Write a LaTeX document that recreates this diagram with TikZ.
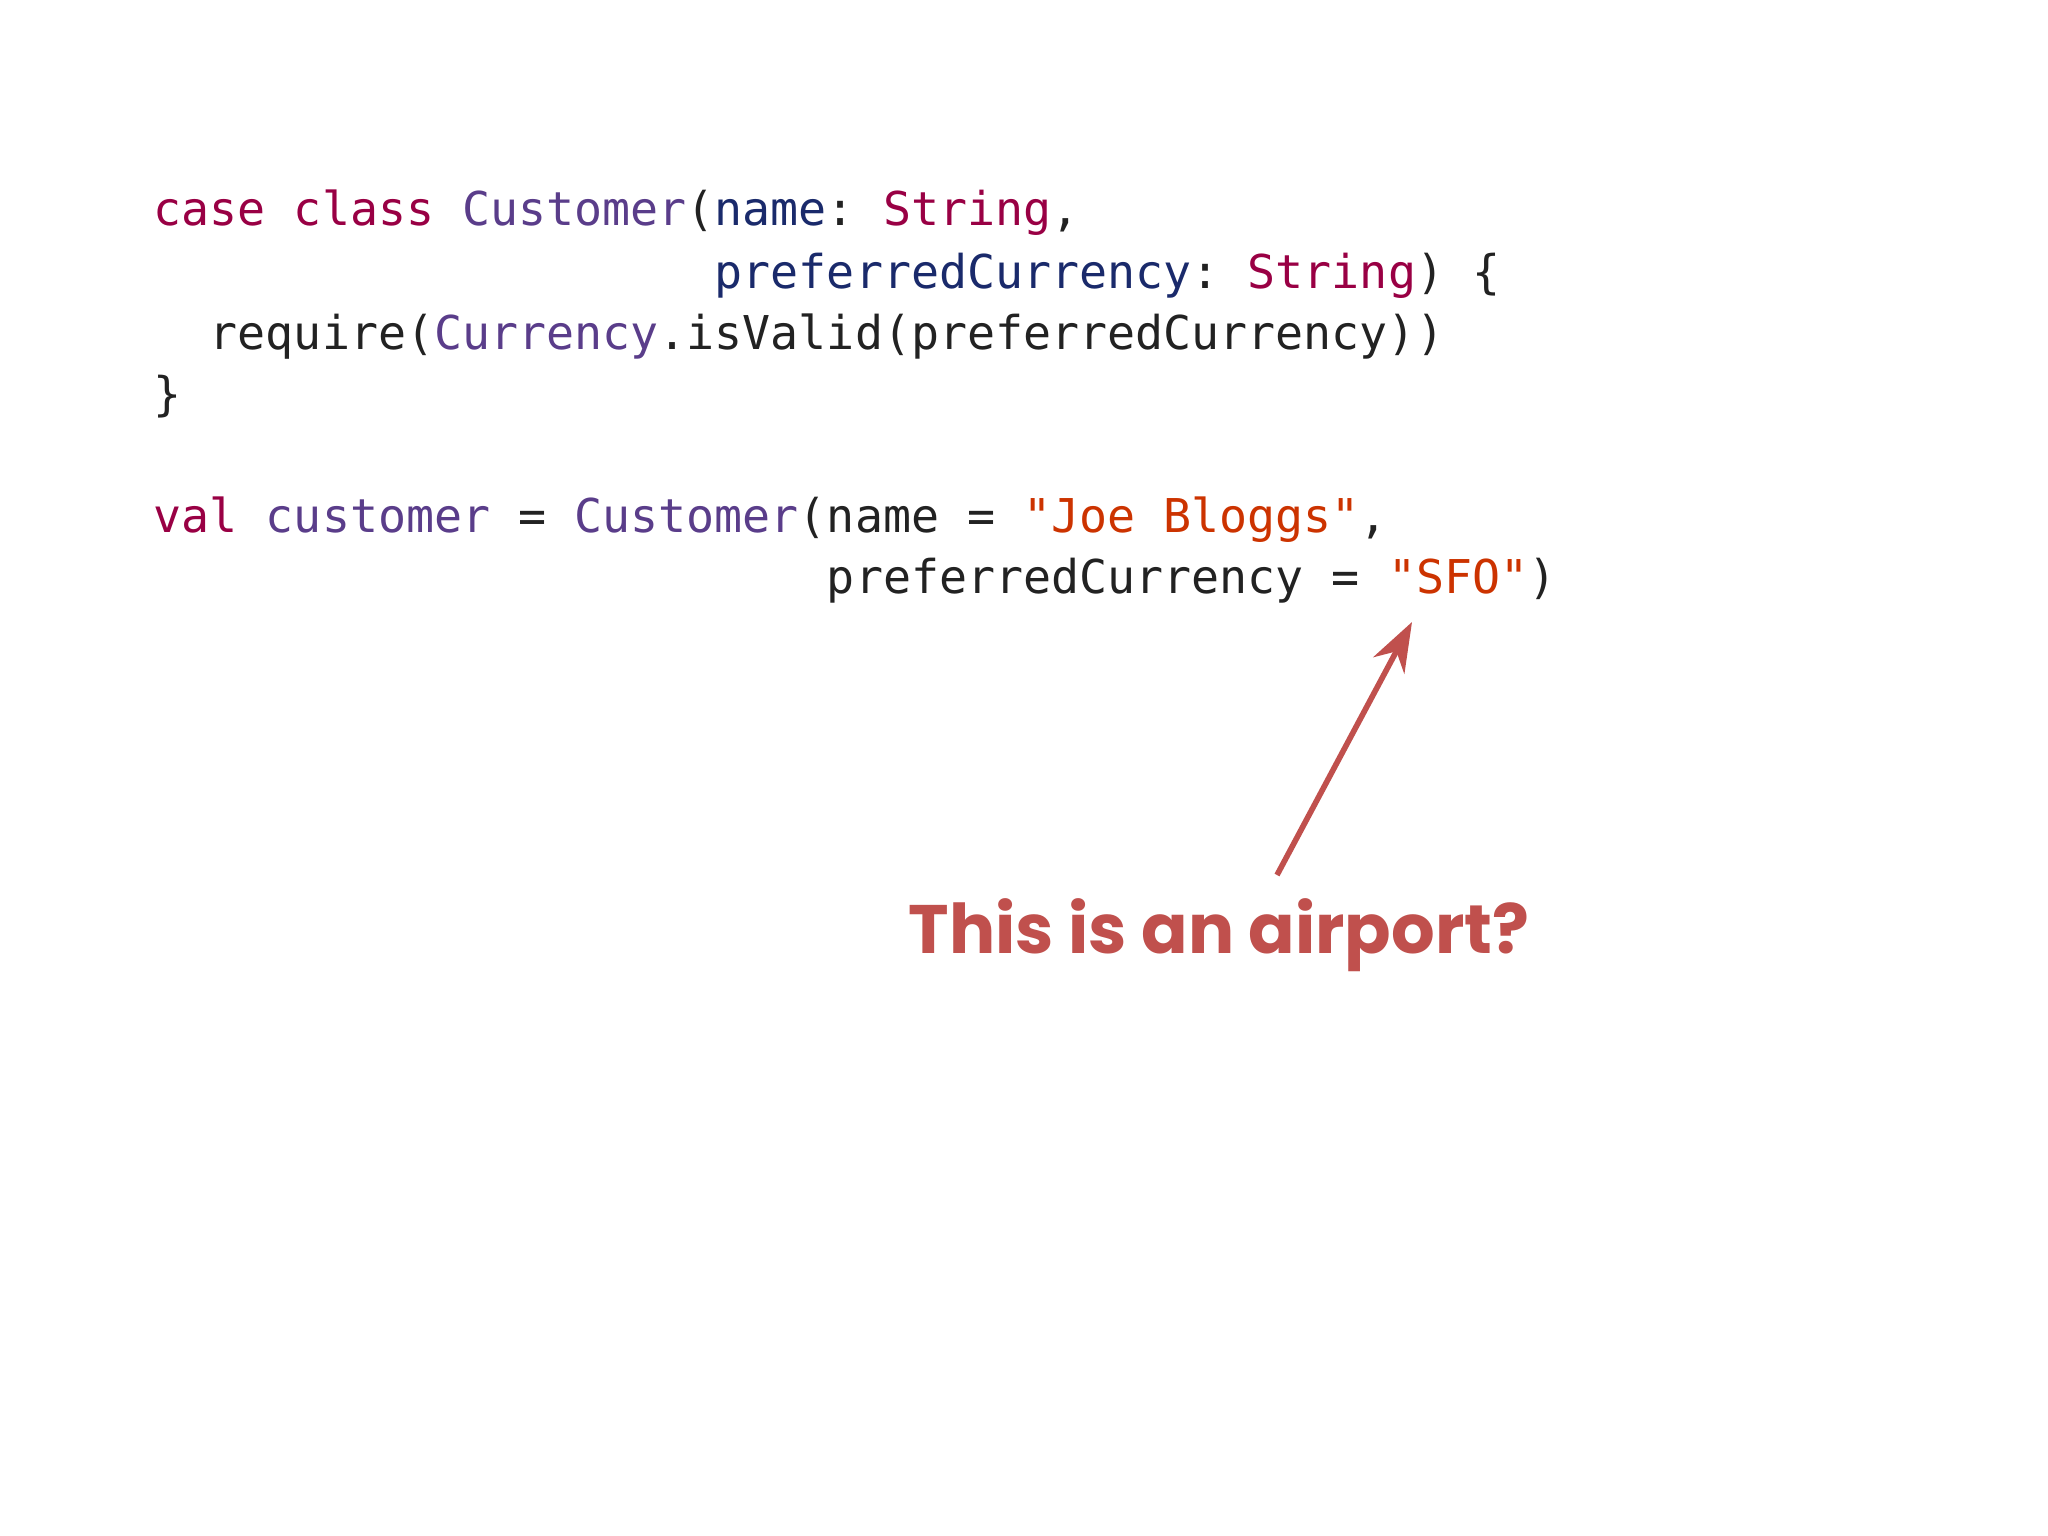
\documentclass[tikz,border=0pt]{standalone}
\usepackage{fontspec}
\setmonofont{DejaVu Sans Mono}
\setsansfont{Poppins}
\usetikzlibrary{arrows.meta}
\definecolor{kw}{HTML}{990044}
\definecolor{ty}{HTML}{5A3D8A}
\definecolor{nm}{HTML}{1A2A6B}
\definecolor{st}{HTML}{CC3300}
\definecolor{tx}{HTML}{222222}
\definecolor{note}{HTML}{C0504D}
\tikzset{code/.style={anchor=base west,inner sep=0pt,font=\ttfamily\fontsize{13.25pt}{15pt}\selectfont,text=tx}}
\begin{document}
\begin{tikzpicture}[x=0.01cm,y=-0.01cm]
\useasboundingbox (0,0) rectangle (2048,1536);
\node[code] (l1) at (153,225) {\textcolor{kw}{case class} \textcolor{ty}{Customer}(\textcolor{nm}{name}: \textcolor{kw}{String},};
\node[code] (l2) at (153,288) {\phantom{case class Customer(}\textcolor{nm}{preferredCurrency}: \textcolor{kw}{String}) \{};
\node[code] (l3) at (153,349) {\phantom{ca}require(\textcolor{ty}{Currency}.isValid(preferredCurrency))};
\node[code] (l4) at (153,410) {\}};
\node[code] (l5) at (153,532) {\textcolor{kw}{val} \textcolor{ty}{customer} = \textcolor{ty}{Customer}(name = \textcolor{st}{"Joe Bloggs"},};
\node[code] (l6) at (153,593) {\phantom{val customer = Customer(}preferredCurrency = \textcolor{st}{"SFO"})};
\node[anchor=base west,inner sep=0pt,font=\sffamily\bfseries\fontsize{19.5pt}{24pt}\selectfont,text=note] (n) at (908,953) {This is an airport?};
\coordinate (a1) at (1277,875);
\coordinate (a2) at (1412,622);
\draw[note,line width=1.6pt,-{Stealth[length=14pt,width=10pt]}] (a1) -- (a2);
\end{tikzpicture}
\end{document}
